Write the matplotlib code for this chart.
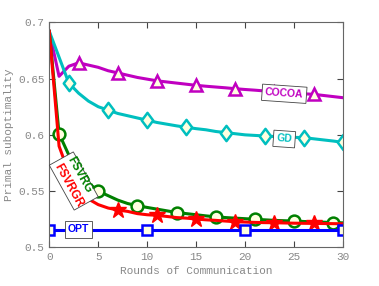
import matplotlib.pyplot as plt
import numpy as np
from matplotlib.path import Path

rounds = np.arange(31)

cocoa = [0.692, 0.652, 0.661, 0.664, 0.662, 0.660, 0.657, 0.655, 0.653, 0.651,
         0.6495, 0.648, 0.647, 0.646, 0.645, 0.644, 0.6432, 0.6425, 0.6418, 0.641,
         0.6403, 0.6397, 0.639, 0.6383, 0.6377, 0.637, 0.6365, 0.636, 0.635, 0.634, 0.633]
gd = [0.692, 0.669, 0.646, 0.637, 0.630, 0.625, 0.622, 0.619, 0.617, 0.615,
      0.613, 0.611, 0.6095, 0.608, 0.6067, 0.6055, 0.6045, 0.603, 0.602, 0.601,
      0.600, 0.5995, 0.599, 0.5985, 0.598, 0.5978, 0.5975, 0.5965, 0.5955, 0.5945, 0.5933]
fsvrg = [0.692, 0.601, 0.582, 0.568, 0.557, 0.550, 0.546, 0.542, 0.539, 0.537,
         0.5355, 0.534, 0.5325, 0.531, 0.530, 0.529, 0.528, 0.5272, 0.5265, 0.526,
         0.5255, 0.525, 0.5245, 0.524, 0.5237, 0.5234, 0.523, 0.5227, 0.5224, 0.522, 0.5218]
fsvrgr = [0.692, 0.590, 0.566, 0.553, 0.543, 0.538, 0.535, 0.5332, 0.532, 0.530,
          0.529, 0.5285, 0.5275, 0.5265, 0.526, 0.5252, 0.5245, 0.524, 0.5234, 0.5228,
          0.5225, 0.5222, 0.522, 0.5219, 0.5217, 0.5215, 0.5214, 0.5213, 0.5212, 0.5211, 0.521]
opt = [0.5157] * 31

face = '#ffffe0'
# matlab style diamond: a bit taller than wide
diamond = Path([(0, 1), (0.75, 0), (0, -1), (-0.75, 0), (0, 1)],
               [Path.MOVETO, Path.LINETO, Path.LINETO, Path.LINETO, Path.CLOSEPOLY])

fig = plt.figure(figsize=(3.79, 2.86), dpi=100)
ax = fig.add_axes([0.13, 0.135, 0.775, 0.787])

ax.plot(rounds, cocoa, color='#c000c0', lw=2.2, marker='^', ms=9, mew=1.8,
        mfc=face, markevery=list(range(3, 31, 4)))
ax.plot(rounds, gd, color='#00bfbf', lw=2.2, marker=diamond, ms=11, mew=1.8,
        mfc=face, markevery=list(range(2, 31, 4)))
ax.plot(rounds, fsvrg, color='#008000', lw=2.2, marker='o', ms=8.5, mew=1.8,
        mfc=face, markevery=list(range(1, 31, 4)))
ax.plot(rounds, fsvrgr, color='#ff0000', lw=2.2, marker='*', ms=12, mew=1,
        mfc='#ff0000', markevery=list(range(3, 31, 4)))
ax.plot(rounds, opt, color='#0000ff', lw=2.2, marker='s', ms=6.5, mew=1.8,
        mfc=face, markevery=[0, 10, 20, 30])

box = dict(boxstyle='square,pad=0.3', fc='white', ec='#444444', lw=0.6)
lab = dict(fontfamily='Liberation Sans', fontweight='bold', fontsize=7.5,
           ha='center', va='center', zorder=10)
ax.text(24.0, 0.6365, 'COCOA', color='#c000c0', rotation=-4, bbox=box, **lab)
ax.text(24.0, 0.5963, 'GD', color='#00bfbf', rotation=-4, bbox=box, **lab)
ax.text(2.97, 0.516, 'OPT', color='#0000ff', bbox=box, **lab)
big = dict(lab, fontsize=8.3)
ax.text(2.5, 0.5590, 'FSVRGR\nFSVRGR', color=(0, 0, 0, 0), rotation=-61,
        rotation_mode='anchor', linespacing=1.0,
        bbox=dict(box, boxstyle='square,pad=0.15'), **big)
ax.text(3.1, 0.5640, 'FSVRG', color='#008000', rotation=-61,
        rotation_mode='anchor', **dict(big, zorder=11))
ax.text(1.95, 0.5550, 'FSVRGR', color='#ff0000', rotation=-61,
        rotation_mode='anchor', **dict(big, zorder=11))

ax.set_xlim(0, 30)
ax.set_ylim(0.5, 0.7)
ax.set_xticks(range(0, 31, 5))
ax.set_yticks([0.5, 0.55, 0.6, 0.65, 0.7])
ax.set_yticklabels(['0.5', '0.55', '0.6', '0.65', '0.7'])
ax.tick_params(direction='in', top=True, right=True, length=4, width=0.8,
               colors='#444444', labelcolor='#888888', labelsize=8)
for lbl in ax.get_xticklabels() + ax.get_yticklabels():
    lbl.set_fontfamily('Liberation Mono')
for s in ax.spines.values():
    s.set_color('#666666')
    s.set_linewidth(0.8)
ax.set_xlabel('Rounds of Communication', fontfamily='Liberation Mono',
              fontsize=8, color='#888888', labelpad=3)
ax.set_ylabel('Primal suboptimality', fontfamily='Liberation Mono',
              fontsize=8, color='#888888', labelpad=3)

fig.savefig('out.png', dpi=100)
